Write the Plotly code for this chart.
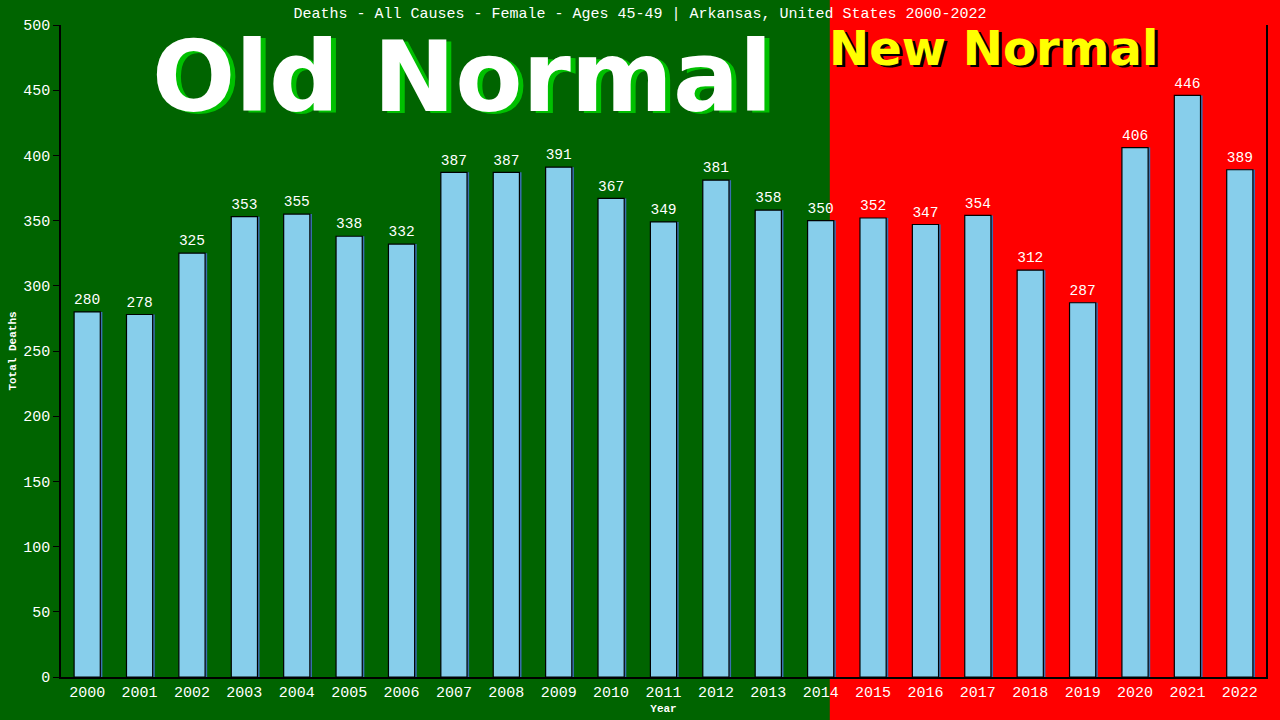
import plotly.graph_objects as go

years = [str(y) for y in range(2000, 2023)]
deaths = [280, 278, 325, 353, 355, 338, 332, 387, 387, 391, 367, 349, 381, 358,
          350, 352, 347, 354, 312, 287, 406, 446, 389]
y_ticks = list(range(0, 501, 50))

title_text = "Deaths - All Causes - Female - Ages 45-49 | Arkansas, United States 2000-2022"
mono = "Liberation Mono, DejaVu Sans Mono, monospace"

fig = go.Figure()
# shadow bars
fig.add_trace(go.Bar(x=years, y=deaths, width=0.5, offset=-0.21,
                     marker=dict(color="#3a6fb0", line=dict(width=0)),
                     hoverinfo="skip", showlegend=False))
fig.add_trace(go.Bar(x=years, y=deaths, width=0.5, offset=-0.25,
                     marker=dict(color="#87CEEB", line=dict(color="black", width=1.2)),
                     text=[str(v) for v in deaths], textposition="outside",
                     textfont=dict(color="white", size=15, family=mono),
                     cliponaxis=False, showlegend=False))

split = 0.638
fig.add_shape(type="rect", xref="paper", yref="paper", x0=-0.2, x1=split, y0=-0.2, y1=1.2,
              fillcolor="#006400", line=dict(width=0), layer="below")
fig.add_shape(type="rect", xref="paper", yref="paper", x0=split, x1=1.2, y0=-0.2, y1=1.2,
              fillcolor="#FF0000", line=dict(width=0), layer="below")

big = "DejaVu Sans, Verdana, sans-serif"
# Old Normal
fig.add_annotation(text="<b>Old Normal</b>", xref="paper", yref="paper", x=0.337, y=0.917,
                   xanchor="center", yanchor="middle", showarrow=False,
                   font=dict(size=98, color="#00c000", family=big))
fig.add_annotation(text="<b>Old Normal</b>", xref="paper", yref="paper", x=0.333, y=0.92,
                   xanchor="center", yanchor="middle", showarrow=False,
                   font=dict(size=98, color="white", family=big))
# New Normal
fig.add_annotation(text="<b>New Normal</b>", xref="paper", yref="paper", x=0.7765, y=0.961,
                   xanchor="center", yanchor="middle", showarrow=False,
                   font=dict(size=48, color="black", family=big))
fig.add_annotation(text="<b>New Normal</b>", xref="paper", yref="paper", x=0.774, y=0.965,
                   xanchor="center", yanchor="middle", showarrow=False,
                   font=dict(size=48, color="#FFFF00", family=big))

fig.update_layout(
    width=1280, height=720,
    margin=dict(l=61, r=14, t=25, b=43),
    paper_bgcolor="#006400", plot_bgcolor="rgba(0,0,0,0)",
    barmode="overlay",
    title=dict(text=title_text, x=0.5, xanchor="center", y=0.982, yanchor="middle",
               font=dict(color="white", size=15, family=mono)),
    xaxis=dict(type="category", showgrid=False, showline=True, linecolor="black", linewidth=1.5,
               ticks="", automargin=False, tickfont=dict(color="white", size=15, family=mono),
               title=dict(text="<b>Year</b>", font=dict(color="white", size=11, family=mono), standoff=4)),
    yaxis=dict(range=[0, 500], tickvals=y_ticks, showgrid=False, zeroline=False,
               showline=True, linecolor="black", linewidth=1.5, mirror=True, automargin=False,
               ticks="outside", ticklen=6, tickcolor="black",
               tickfont=dict(color="white", size=15, family=mono),
               title=dict(text="<b>Total Deaths</b>", font=dict(color="white", size=11, family=mono), standoff=4)),
)

fig.write_html("out.html", config={"displayModeBar": False},
               post_script="document.body.style.margin='0';")
